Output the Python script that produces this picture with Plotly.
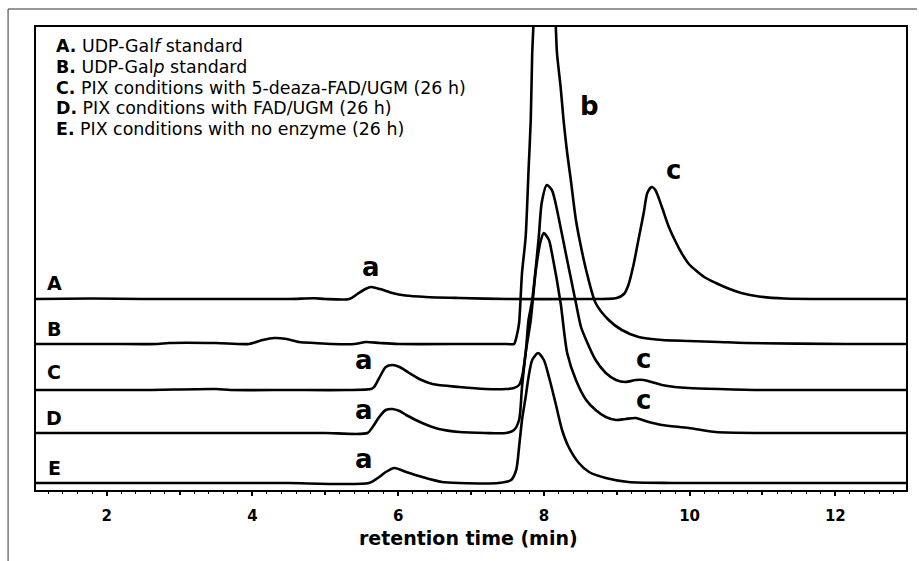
import plotly.graph_objects as go

# ---------------- data ----------------
# retention time (min) and detector signal above each trace's own baseline
A_x = [1.03, 1.8, 2.5, 3.5, 4.5, 4.85, 5.0, 5.33, 5.44, 5.55, 5.63, 5.75, 5.92, 6.1, 6.38, 6.84, 7.5, 8.5, 9.0, 9.10,
       9.16, 9.23, 9.30, 9.37, 9.42, 9.48, 9.53, 9.62, 9.71, 9.81, 9.89, 9.99, 10.2, 10.36, 10.55, 10.71, 10.95, 11.3, 12.0, 12.97]
A_y = [0, 0.5, 0, 0, 0, 0.8, 0, 0, 5, 10, 12, 10, 6, 3.5, 2, 1, 0, 0, 1, 5,
       14, 34, 60, 86, 106, 112, 109, 92, 73, 57, 46, 35, 22, 16, 10, 6, 2.5, 0.5, 0, 0]

B_x = [1.03, 2.0, 2.7, 2.85, 3.5, 3.95, 4.14, 4.30, 4.47, 4.64, 4.85, 5.1, 5.4, 5.56, 5.75, 6.0, 7.0, 7.50, 7.59, 7.63,
       7.66, 7.70, 7.75, 7.79, 7.82, 7.84, 7.86, 8.0, 8.16, 8.18, 8.23, 8.27, 8.32, 8.37, 8.44, 8.51, 8.58, 8.71, 8.89, 9.07,
       9.30, 9.62, 9.99, 10.4, 10.77, 12.14, 12.97]
B_y = [0, 0, 0, 1, 1, 0, 4, 6, 5, 2, 1, 0, 0, 2, 1, 0, 0, 0, 0, 9,
       21, 71, 107, 174, 224, 291, 324, 554, 324, 291, 257, 224, 191, 164, 124, 97, 74, 41, 24, 14,
       7, 4, 3, 2, 1, 0, 0]

C_x = [1.03, 2.5, 3.5, 3.7, 4.5, 5.29, 5.63, 5.67, 5.74, 5.83, 5.92, 6.02, 6.15, 6.29, 6.47, 6.84, 7.2, 7.48, 7.59, 7.66,
       7.70, 7.75, 7.79, 7.84, 7.93, 7.97, 8.04, 8.11, 8.16, 8.30, 8.44, 8.51, 8.58, 8.71, 8.85, 8.99, 9.12, 9.26, 9.37, 9.48,
       9.62, 9.80, 9.99, 10.4, 11.0, 12.97]
C_y = [0, 0, 1, 0, 0, 0, 1, 3, 12, 23, 25, 23, 17, 11, 6, 3, 1, 1, 2, 5,
       13, 37, 70, 90, 153, 187, 205, 200, 187, 137, 87, 63, 50, 30, 17, 10, 8, 10, 10, 8,
       5, 3, 2, 1, 0, 0]

D_x = [1.03, 1.8, 2.6, 3.5, 4.5, 5.0, 5.58, 5.65, 5.74, 5.83, 5.92, 6.02, 6.11, 6.33, 6.56, 6.84, 7.2, 7.48, 7.59, 7.66,
       7.70, 7.75, 7.82, 7.89, 7.96, 8.0, 8.07, 8.11, 8.23, 8.32, 8.44, 8.58, 8.71, 8.85, 8.99, 9.12, 9.26, 9.44, 9.62, 9.99,
       10.36, 11.0, 12.97]
D_y = [0, 0, 0, 0, 0, 0, 0, 6, 16, 23, 24, 22, 18, 10, 4, 1, 0, 0, 3, 13,
       46, 80, 113, 163, 193, 200, 193, 180, 130, 80, 53, 33, 23, 16, 13, 14, 15, 11, 8, 5,
       1, 0, 0]

E_x = [1.03, 1.7, 1.85, 2.5, 4.05, 4.5, 5.60, 5.74, 5.83, 5.95, 6.11, 6.33, 6.60, 6.84, 7.38, 7.55, 7.62, 7.66, 7.70, 7.75,
       7.79, 7.84, 7.92, 8.0, 8.07, 8.16, 8.25, 8.34, 8.48, 8.62, 8.85, 9.16, 9.75, 12.97]
E_y = [0, 0, 0, 0, 0, 0, 0, 6, 11, 15, 11, 6, 1, 0, 0, 3, 13, 36, 63, 86,
       106, 123, 130, 123, 106, 80, 53, 36, 20, 11, 5, 1, 0, 0]

TRACE_NAMES = ["A", "B", "C", "D", "E"]
OFFSETS = [191, 146, 100, 57, 7]          # vertical stacking of the chromatograms

LEGEND_ROWS = [
    ("A.", "UDP-Gal<i>f</i> standard"),
    ("B.", "UDP-Gal<i>p</i> standard"),
    ("C.", "PIX conditions with 5-deaza-FAD/UGM (26 h)"),
    ("D.", "PIX conditions with FAD/UGM (26 h)"),
    ("E.", "PIX conditions with no enzyme (26 h)"),
]

# peak letters: (label, retention time, signal level)
PEAK_LABELS = [
    ("a", 5.63, 223), ("b", 8.62, 384), ("c", 9.78, 320),
    ("a", 5.53, 130), ("c", 9.37, 131),
    ("a", 5.53, 80), ("c", 9.37, 90),
    ("a", 5.53, 31),
]
ROW_LABEL_X = 1.28
ROW_LABEL_Y = [207, 161, 118, 72, 22]

LABELLED_TICKS = [2, 4, 6, 8, 10, 12]
UNLABELLED_TICKS = [1, 3, 5, 7, 9, 11, 13]

FONT = "DejaVu Sans, sans-serif"

# ---------------- figure ----------------
fig = go.Figure()
series = [(A_x, A_y), (B_x, B_y), (C_x, C_y), (D_x, D_y), (E_x, E_y)]
for name, (xs, ys), off in zip(TRACE_NAMES, series, OFFSETS):
    fig.add_trace(go.Scatter(
        x=xs, y=[v + off for v in ys], mode="lines", name=name,
        line=dict(color="black", width=2.6, shape="spline", smoothing=0.7),
        showlegend=False, hoverinfo="skip"))
# invisible helper trace so the secondary (odd-tick) axis is drawn
fig.add_trace(go.Scatter(x=[E_x[0]], y=[OFFSETS[-1]], xaxis="x2", mode="markers",
                         marker=dict(opacity=0), showlegend=False, hoverinfo="skip"))

annotations = []
for name, yv in zip(TRACE_NAMES, ROW_LABEL_Y):
    annotations.append(dict(x=ROW_LABEL_X, y=yv, xref="x", yref="y", text=f"<b>{name}</b>",
                            showarrow=False, font=dict(family=FONT, size=19, color="black"),
                            xanchor="center", yanchor="middle", borderpad=0))
for lab, xv, yv in PEAK_LABELS:
    annotations.append(dict(x=xv, y=yv, xref="x", yref="y", text=f"<b>{lab}</b>",
                            showarrow=False, font=dict(family=FONT, size=26, color="black"),
                            xanchor="center", yanchor="middle", borderpad=0))

legend_y_px = [46.5, 67, 87.5, 108, 128.5]
for (lead, txt), py in zip(LEGEND_ROWS, legend_y_px):
    annotations.append(dict(x=(55 - 36) / 872, y=(490 - py) / 463, xref="paper", yref="paper",
                            text=f"<b>{lead}</b> {txt}", showarrow=False,
                            font=dict(family=FONT, size=17.4, color="black"),
                            xanchor="left", yanchor="middle", borderpad=0))

annotations.append(dict(x=(469 - 36) / 872, y=(490 - 538) / 463, xref="paper", yref="paper",
                        text="<b>retention time (min)</b>", showarrow=False,
                        font=dict(family=FONT, size=19, color="black"),
                        xanchor="center", yanchor="middle", borderpad=0))

shapes = [
    # outer thin frame (top and left edges of the figure panel)
    dict(type="line", xref="paper", yref="paper", x0=(8 - 36) / 872, x1=(919 - 36) / 872,
         y0=(490 - 9) / 463, y1=(490 - 9) / 463, line=dict(color="#333333", width=1)),
    dict(type="line", xref="paper", yref="paper", x0=(8 - 36) / 872, x1=(8 - 36) / 872,
         y0=(490 - 9) / 463, y1=(490 - 561) / 463, line=dict(color="#333333", width=1)),
]

XRANGE = [1.03, 12.97]
fig.update_layout(
    width=919, height=561,
    margin=dict(l=36, r=11, t=27, b=71),
    paper_bgcolor="white", plot_bgcolor="white",
    annotations=annotations, shapes=shapes,
    xaxis=dict(range=XRANGE, tickmode="array", tickvals=LABELLED_TICKS,
               ticks="outside", ticklen=4, tickwidth=1.5, tickcolor="black",
               minor=dict(ticks="outside", ticklen=2, tickwidth=1, tickcolor="black", dtick=0.2, tick0=0),
               showline=True, linecolor="black", linewidth=2, mirror=True,
               showgrid=False, zeroline=False, ticklabelstandoff=7,
               tickfont=dict(family=FONT, size=15, color="black", weight="bold")),
    xaxis2=dict(range=XRANGE, overlaying="x", anchor="y", side="bottom", tickmode="array",
                tickvals=UNLABELLED_TICKS, ticks="outside", ticklen=4, tickwidth=1.5, tickcolor="black",
                showticklabels=False, showline=False, showgrid=False, zeroline=False),
    yaxis=dict(range=[0, 463], showticklabels=False, ticks="", showgrid=False, zeroline=False,
               showline=True, linecolor="black", linewidth=2, mirror=True),
)

fig.write_html("out.html")
